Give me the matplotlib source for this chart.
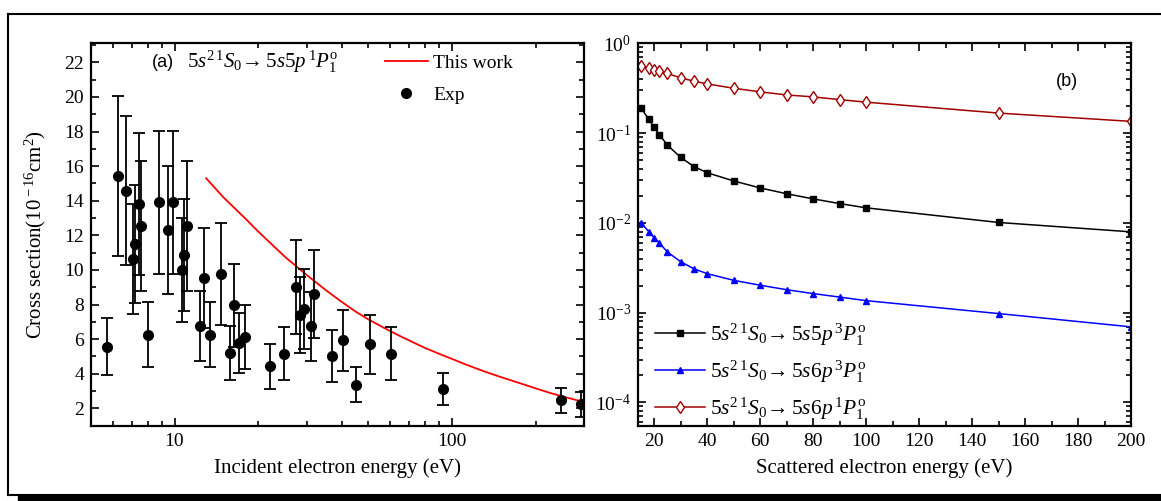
import numpy as np
import matplotlib
matplotlib.use('Agg')
import matplotlib.pyplot as plt
from matplotlib.lines import Line2D
from matplotlib.patches import Rectangle
from matplotlib.ticker import MultipleLocator, NullFormatter, FixedLocator, LogLocator

plt.rcParams['font.family'] = ['Liberation Serif', 'DejaVu Serif']
plt.rcParams['mathtext.fontset'] = 'custom'
plt.rcParams['mathtext.rm'] = 'Liberation Serif'
plt.rcParams['mathtext.it'] = 'Liberation Serif:italic'
plt.rcParams['mathtext.bf'] = 'Liberation Serif:bold'

# (a) experiment
exp_E = [5.70, 6.28, 6.66, 7.06, 7.22, 7.42, 7.56, 8.04, 8.81, 9.44, 9.90, 10.61, 10.85, 11.12,
         12.35, 12.81, 13.47, 14.76, 15.81, 16.35, 17.09, 17.92, 22.13, 24.86, 27.33, 28.32,
         29.35, 31.03, 31.9, 37.07, 40.6, 45.1, 50.8, 60.5, 93.1, 246.6, 291]
exp_val = [5.56, 15.43, 14.58, 10.63, 11.49, 13.83, 12.55, 6.27, 13.91, 12.32, 13.91, 10.01, 10.84, 12.55,
           6.78, 9.53, 6.27, 9.76, 5.21, 7.95, 5.79, 6.13, 4.44, 5.17, 9.01, 7.42,
           7.75, 6.75, 8.61, 5.05, 5.94, 3.37, 5.71, 5.17, 3.14, 2.48, 2.23]
exp_err = [1.65, 4.6, 4.3, 3.2, 3.4, 4.1, 3.77, 1.9, 4.15, 3.7, 4.15, 3.0, 3.24, 3.77,
           2.03, 2.9, 1.9, 2.95, 1.55, 2.38, 1.74, 1.83, 1.3, 1.55, 2.7, 2.2,
           2.3, 2.0, 2.55, 1.5, 1.75, 1.0, 1.7, 1.53, 0.93, 0.72, 0.72]

# (a) this work
calc_E = [13, 15, 18, 20, 25, 30, 35, 40, 45, 50, 55, 60, 65, 70, 80, 90, 100, 110, 120, 130,
          150, 170, 200, 225, 250, 275, 300]
calc_val = [15.3, 14.2, 12.97, 12.23, 10.76, 9.70, 8.85, 8.16, 7.59, 7.14, 6.78, 6.46, 6.18, 5.93,
            5.49, 5.15, 4.86, 4.59, 4.36, 4.15, 3.81, 3.53, 3.16, 2.90, 2.69, 2.52, 2.35]

# (b)
scat_E = [15, 18, 20, 22, 25, 30, 35, 40, 50, 60, 70, 80, 90, 100, 150, 200]
p3_5p = [0.192, 0.142, 0.116, 0.0959, 0.0736, 0.0537, 0.0424, 0.0362, 0.0293, 0.0245, 0.0211,
         0.0185, 0.0164, 0.0147, 0.0101, 0.00794]
p3_6p = [0.0100, 0.0080, 0.00684, 0.00597, 0.00474, 0.00370, 0.00308, 0.00272, 0.00229, 0.00202,
         0.00180, 0.00163, 0.00149, 0.00136, 0.000976, 0.000694]
p1_6p = [0.562, 0.525, 0.507, 0.490, 0.462, 0.412, 0.379, 0.353, 0.316, 0.288, 0.266, 0.253,
         0.236, 0.221, 0.167, 0.135]

W, H = 1161, 501
fig = plt.figure(figsize=(W/100, H/100), dpi=100)

def style(ax):
    for s in ax.spines.values():
        s.set_linewidth(1.6)
    ax.tick_params(which='both', direction='in', top=True, right=True, labelsize=14, width=1.2)
    ax.tick_params(which='major', length=6, pad=5)
    ax.tick_params(which='minor', length=3.5)

# ---- panel (a)
ax1 = fig.add_axes([91/W, 1-425.7/H, 493.4/W, 382.4/H])
ax1.set_xscale('log')
ax1.plot(calc_E, calc_val, color='red', lw=1.3)
ax1.errorbar(exp_E, exp_val, yerr=exp_err, fmt='o', color='black', ms=7, elinewidth=1.3,
             capsize=4, capthick=1.3)
ax1.set_xlim(5, 300)
ax1.set_ylim(1, 23.1)
ax1.yaxis.set_major_locator(FixedLocator([2, 4, 6, 8, 10, 12, 14, 16, 18, 20, 22]))
ax1.yaxis.set_minor_locator(MultipleLocator(1))
ax1.set_xticks([10, 100])
ax1.set_xticklabels(['10', '100'])
ax1.xaxis.set_minor_locator(FixedLocator([5, 6, 7, 8, 9, 20, 30, 40, 50, 60, 70, 80, 90, 200, 300]))
ax1.xaxis.set_minor_formatter(NullFormatter())
style(ax1)
ax1.set_xlabel('Incident electron energy (eV)', fontsize=15, labelpad=6)
ax1.set_ylabel(r'Cross section(10$^{\rm -16}$cm$^{\rm 2}$)', fontsize=15, labelpad=12)
ax1.text(0.124, 0.951, '(a)', transform=ax1.transAxes, fontsize=13, family='Liberation Sans', va='center')
ax1.text(0.195, 0.951, r'$5s^{2\,1}S_0\!\rightarrow 5s5p\,{}^1P_1^{\rm o}$', transform=ax1.transAxes,
         fontsize=15, va='center')
h1 = [Line2D([], [], color='red', lw=1.3),
      Line2D([], [], color='black', marker='o', ls='none', ms=7)]
ax1.legend(h1, ['This work', 'Exp'], loc='upper left', bbox_to_anchor=(0.56, 1.018), frameon=False,
           fontsize=14, handlelength=2.2, handletextpad=0.3, labelspacing=0.75)

# ---- panel (b)
ax2 = fig.add_axes([638.2/W, 1-425.7/H, 492.8/W, 382.4/H])
ax2.set_yscale('log')
ax2.plot(scat_E, p3_5p, color='black', marker='s', ms=4, lw=1.1,
         label=r'$5s^{2\,1}S_0\!\rightarrow 5s5p\,{}^3P_1^{\rm o}$')
ax2.plot(scat_E, p3_6p, color='blue', marker='^', ms=5, lw=1.1,
         label=r'$5s^{2\,1}S_0\!\rightarrow 5s6p\,{}^3P_1^{\rm o}$')
ax2.plot(scat_E, p1_6p, color='#a00000', marker='d', ms=6, lw=1.1, mfc='white', mec='#a00000',
         label=r'$5s^{2\,1}S_0\!\rightarrow 5s6p\,{}^1P_1^{\rm o}$')
ax2.set_xlim(14, 200)
ax2.set_ylim(5.5e-5, 1)
ax2.set_xticks(np.arange(20, 201, 20))
ax2.xaxis.set_minor_locator(MultipleLocator(10))
ax2.yaxis.set_major_locator(LogLocator(base=10))
ax2.yaxis.set_minor_locator(FixedLocator([m * 10.0**e for e in range(-5, 0) for m in range(2, 10)]))
ax2.yaxis.set_minor_formatter(NullFormatter())
style(ax2)
ax2.set_xlabel('Scattered electron energy (eV)', fontsize=15, labelpad=6)
ax2.text(0.848, 0.901, '(b)', transform=ax2.transAxes, fontsize=13, family='Liberation Sans', va='center')
ax2.legend(loc='lower left', bbox_to_anchor=(-0.005, -0.04), frameon=False, fontsize=15.5,
           handlelength=2.3, handletextpad=0.25, labelspacing=0.5)

# ---- outer frame
fig.add_artist(Line2D([8/W, 1], [1-14/H, 1-14/H], color='black', lw=1.5, transform=fig.transFigure))
fig.add_artist(Line2D([8/W, 8/W], [1-14/H, 1-495/H], color='black', lw=1.5, transform=fig.transFigure))
fig.add_artist(Line2D([8/W, 1], [1-495/H, 1-495/H], color='black', lw=1.5, transform=fig.transFigure))
fig.add_artist(Rectangle((18/W, 0), 1, 5/H, color='black', transform=fig.transFigure))

plt.savefig('out.png', dpi=100)
